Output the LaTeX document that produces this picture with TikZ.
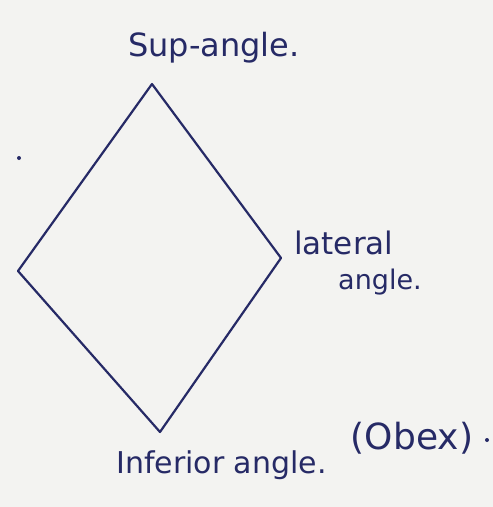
\documentclass[tikz,border=0pt]{standalone}
\usepackage{fontspec}
\setmainfont{DejaVu Sans}
\begin{document}
\begin{tikzpicture}[x=1pt,y=-1pt,
  ink/.style={draw=inkc, line width=2.2pt, line join=round, line cap=round},
  lbl/.style={text=inkc, inner sep=0pt, anchor=center}]
\definecolor{inkc}{HTML}{262A66}
\definecolor{paper}{HTML}{F3F3F1}
\fill[paper] (0,0) rectangle (493,507);
\useasboundingbox (0,0) rectangle (493,507);
\coordinate (top) at (152,84);
\coordinate (left) at (18,271);
\coordinate (bot) at (160,432);
\coordinate (right) at (281,258);
\draw[ink] (top) -- (right) -- (bot) -- (left) -- cycle;
\node[lbl] (sup) at (214,48) {\fontsize{32}{32}\selectfont Sup-angle.};
\node[lbl, anchor=west] (lat1) at (294,243) {\fontsize{31}{31}\selectfont lateral};
\node[lbl, anchor=west] (lat2) at (338,282) {\fontsize{27}{27}\selectfont angle.};
\node[lbl, anchor=west] (inf) at (116,465) {\fontsize{30}{30}\selectfont Inferior angle.};
\node[lbl] (obex) at (412,438) {\fontsize{36}{36}\selectfont (Obex)};
\fill[inkc] (487,440) circle (2);
\fill[inkc] (19,158) circle (2);
\end{tikzpicture}
\end{document}
